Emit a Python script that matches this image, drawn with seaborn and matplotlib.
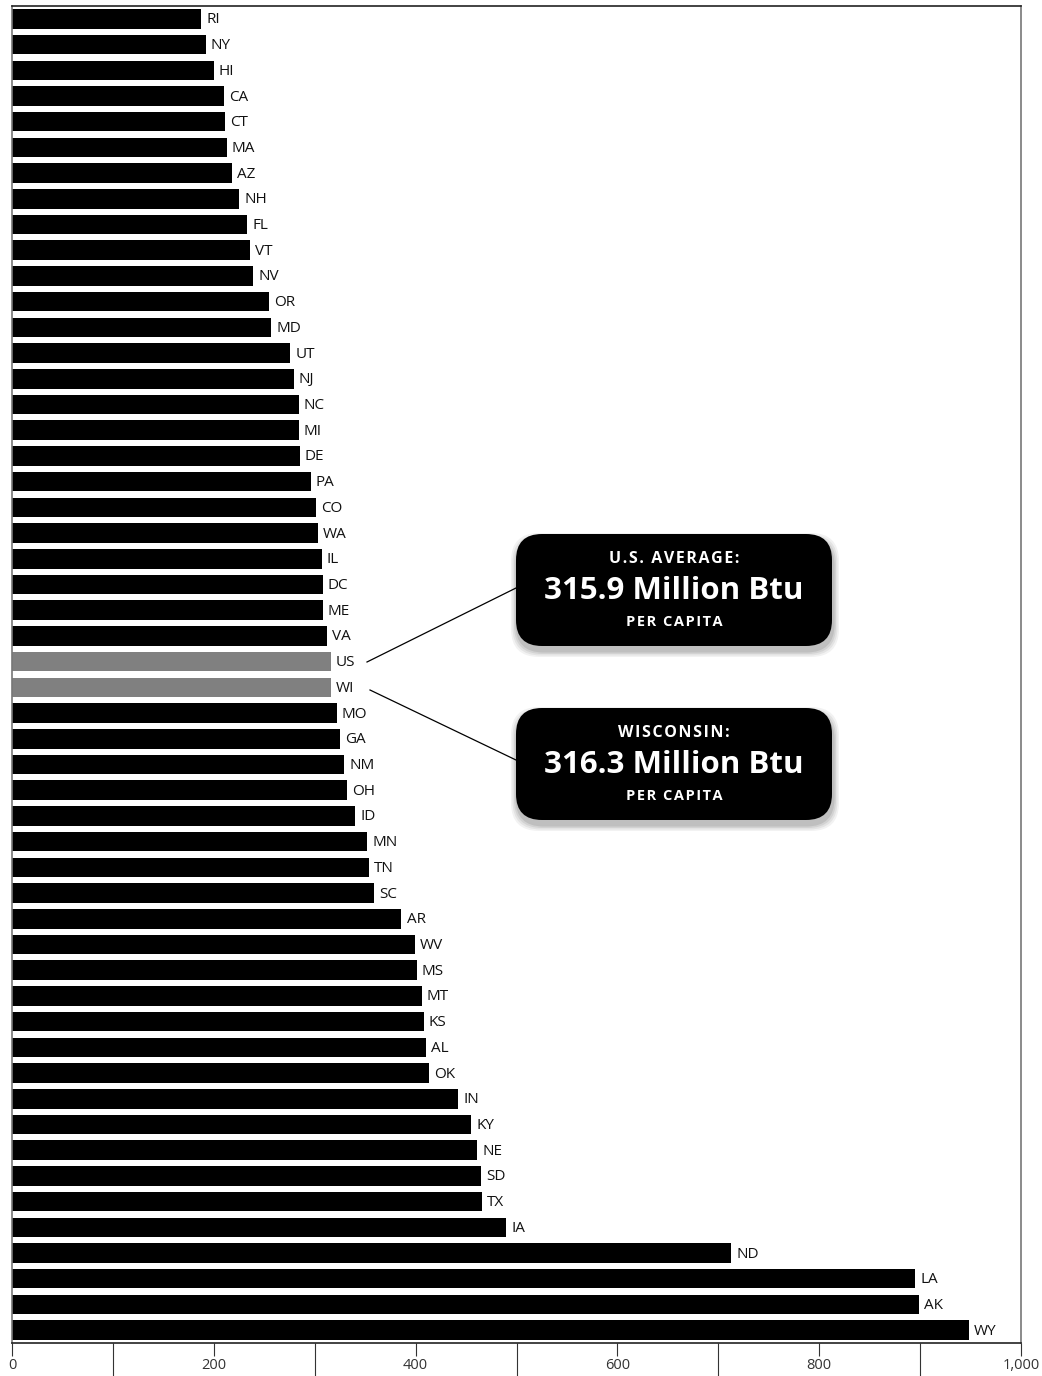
import numpy as np
import pandas as pd
import matplotlib
matplotlib.use('Agg')
import matplotlib.pyplot as plt
import seaborn as sns
from matplotlib.patches import FancyBboxPatch
from matplotlib.lines import Line2D
from matplotlib.ticker import FuncFormatter

# ── Data: energy consumption per capita (million Btu) ────────────────────────
states = ['RI', 'NY', 'HI', 'CA', 'CT', 'MA', 'AZ', 'NH', 'FL', 'VT', 'NV', 'OR',
          'MD', 'UT', 'NJ', 'NC', 'MI', 'DE', 'PA', 'CO', 'WA', 'IL', 'DC', 'ME',
          'VA', 'US', 'WI', 'MO', 'GA', 'NM', 'OH', 'ID', 'MN', 'TN', 'SC', 'AR',
          'WV', 'MS', 'MT', 'KS', 'AL', 'OK', 'IN', 'KY', 'NE', 'SD', 'TX', 'IA',
          'ND', 'LA', 'AK', 'WY']
values = [187.5, 192, 200, 210, 211, 213, 218, 225, 233, 236, 239, 255,
          257, 276, 279, 284, 284, 285, 296, 301, 303, 307, 308, 308,
          312, 315.9, 316.3, 322, 325, 329, 332, 340, 352, 354, 359, 386,
          399, 401, 406, 408, 410, 413, 442, 455, 461, 465, 466, 490,
          713, 895, 899, 948]
highlight = ['US', 'WI']

callouts = [('US', 'U.S. AVERAGE:', '315.9 Million Btu', 'PER CAPITA'),
            ('WI', 'WISCONSIN:', '316.3 Million Btu', 'PER CAPITA')]

df = pd.DataFrame({'state': states, 'value': values})
colors = {s: ('#808080' if s in highlight else '#000000') for s in states}

FONT = 'Open Sans'
W, H, DPI = 1042, 1376, 100
fig = plt.figure(figsize=(W / DPI, H / DPI), dpi=DPI)
ax = fig.add_axes([12 / W, 1 - 1343 / H, (1021 - 12) / W, (1343 - 6) / H])

sns.barplot(data=df, x='value', y='state', hue='state', palette=colors,
            legend=False, width=0.76, orient='h', saturation=1, ax=ax)

for i, (s, v) in enumerate(zip(states, values)):
    ax.text(v + 5, i + 0.04, s, va='center', ha='left', fontsize=11,
            family=FONT, color='#111111')

ax.set_xlim(0, 1000)
ax.set_ylim(len(states) - 0.5, -0.5)
ax.set_xlabel('')
ax.set_ylabel('')
ax.set_yticks([])
ax.set_xticks(range(0, 1001, 200))
ax.set_xticks(range(100, 1000, 200), minor=True)
ax.xaxis.set_major_formatter(FuncFormatter(lambda x, p: f'{int(x):,}'))
ax.tick_params(axis='x', which='major', length=9, width=0.8, color='#333333',
               labelsize=10.5, labelcolor='#333333', pad=2)
ax.tick_params(axis='x', which='minor', length=24, width=0.8, color='#333333')
for lab in ax.get_xticklabels():
    lab.set_family(FONT)
for side, col in [('top', '#222222'), ('bottom', '#222222'),
                  ('left', '#777777'), ('right', '#777777')]:
    ax.spines[side].set_color(col)
    ax.spines[side].set_linewidth(1.2)

# ── Callout boxes (figure inches) ─────────────────────────────────────────────
inch = fig.dpi_scale_trans
boxes = [(5.16, 7.30), (5.16, 5.56)]
bw, bh = 3.16, 1.12


def spaced(txt):
    # mimic the tracked-out caps of the original
    return '\u200a'.join(txt)


for (state, head, big, sub), (bx, by) in zip(callouts, boxes):
    # soft drop shadow, mostly below the box
    for k, a in enumerate([0.05, 0.06, 0.07, 0.09]):
        off = 0.015 * (4 - k)
        sh = FancyBboxPatch((bx + 0.01, by - 0.05), bw, bh,
                            boxstyle=f'round,pad={off},rounding_size=0.28',
                            transform=inch, facecolor='black', edgecolor='none',
                            alpha=a, zorder=5)
        fig.patches.append(sh)
    box = FancyBboxPatch((bx, by), bw, bh, boxstyle='round,pad=0,rounding_size=0.26',
                         transform=inch, facecolor='black', edgecolor='none', zorder=6)
    fig.patches.append(box)
    cx = bx + bw / 2
    fig.text(cx, by + 0.87, spaced(head), transform=inch, ha='center', va='center',
             fontsize=11.5, fontweight='bold', color='white',
             family=[FONT, 'DejaVu Sans'], zorder=7)
    fig.text(cx, by + 0.55, big, transform=inch, ha='center', va='center',
             fontsize=22.5, fontweight='bold', color='white', family=FONT, zorder=7)
    fig.text(cx, by + 0.24, spaced(sub), transform=inch, ha='center', va='center',
             fontsize=10.5, fontweight='bold', color='white',
             family=[FONT, 'DejaVu Sans'], zorder=7)

# connector lines from labels to boxes
fig.lines.append(Line2D([3.67, 5.16], [7.14, 7.88], transform=inch,
                        color='black', lw=0.9, zorder=4))
fig.lines.append(Line2D([3.70, 5.16], [6.86, 6.16], transform=inch,
                        color='black', lw=0.9, zorder=4))

fig.savefig('out.png', dpi=DPI)
